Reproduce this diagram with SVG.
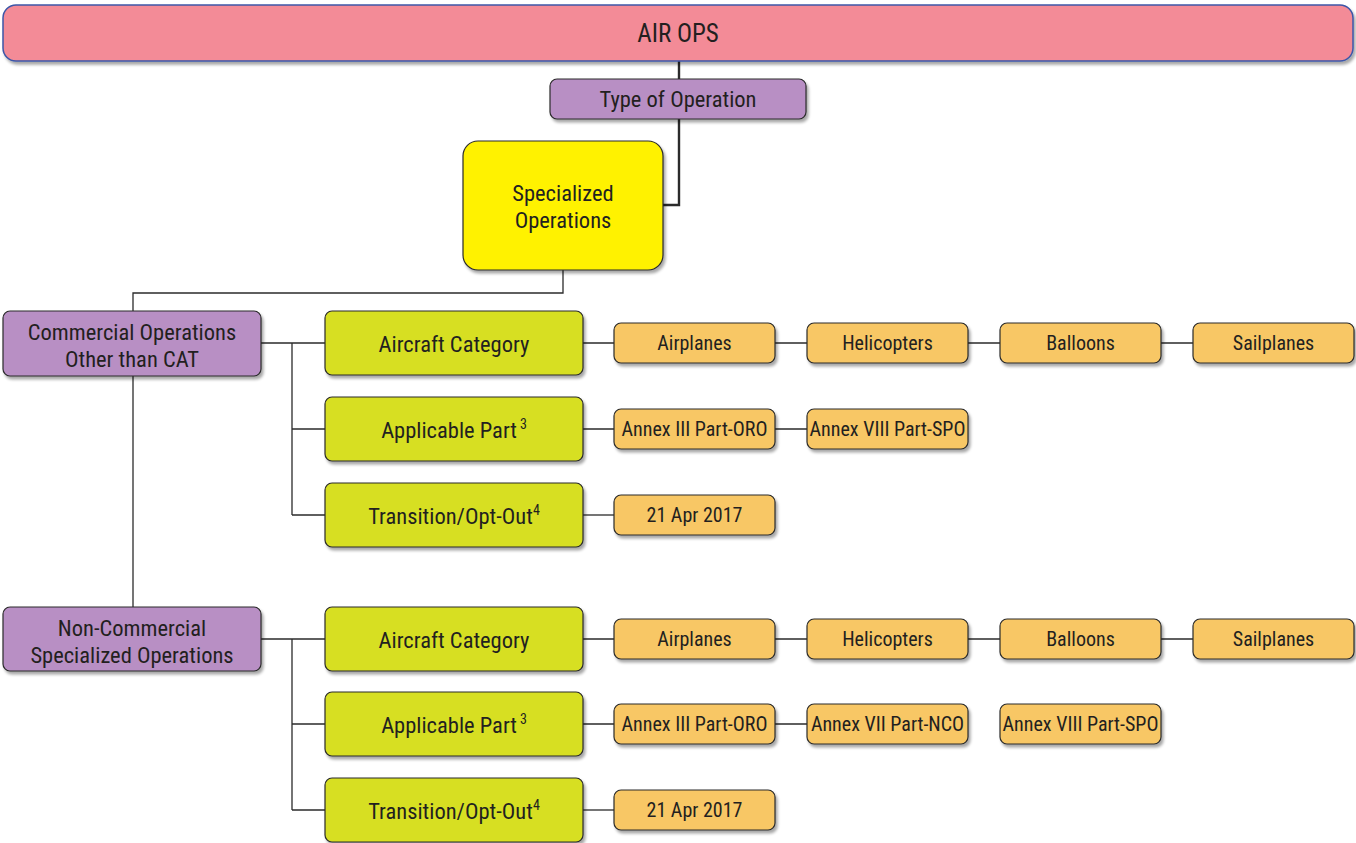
<svg xmlns="http://www.w3.org/2000/svg" width="1356" height="843" viewBox="0 0 1356 843">
  <style>
    .t { font-family: "Liberation Sans Narrow", "Roboto Condensed", "Liberation Sans", sans-serif; fill: #231f20; text-anchor: middle; }
    .big { font-size: 25px; }
    .mid { font-size: 22.5px; }
    .sm { font-size: 20px; }
    .box { stroke: #2b2b2b; stroke-width: 1.2; filter: url(#shadow); }
    .root { fill: #f38b97; stroke: #3d57a8; stroke-width: 1.5; filter: url(#shadow); }
    .purple { fill: #b88fc4; }
    .yellow { fill: #fff200; }
    .green { fill: #d7df21; }
    .orange { fill: #f8c765; }
    .wire { fill: none; stroke: #2b2b2b; stroke-width: 1.3; }
    .thick { stroke-width: 2.4; }
  </style>
  <defs>
    <filter id="shadow" x="-10%" y="-20%" width="120%" height="150%">
      <feGaussianBlur in="SourceAlpha" stdDeviation="1.5"/>
      <feOffset dx="2" dy="3" result="o"/>
      <feComponentTransfer><feFuncA type="linear" slope="0.35"/></feComponentTransfer>
      <feMerge><feMergeNode/><feMergeNode in="SourceGraphic"/></feMerge>
    </filter>
  </defs>

  <rect width="1356" height="843" fill="#ffffff"/>

  <!-- connectors -->
  <g id="connectors">
    <path class="wire thick" d="M679 61 V79"/>
    <path class="wire thick" d="M679 119 V205 H663"/>
    <path class="wire" d="M563 270 V293 H133 V311"/>
    <path class="wire" d="M133 376 V607"/>
    <!-- commercial branch -->
    <path class="wire" d="M261 343 H325 M292 343 V515 M292 429 H325 M292 515 H325"/>
    <path class="wire" d="M583 343 H614 M775 343 H807 M968 343 H1000 M1161 343 H1193"/>
    <path class="wire" d="M583 429 H614 M775 429 H807"/>
    <path class="wire" d="M583 515 H614"/>
    <!-- non-commercial branch -->
    <path class="wire" d="M261 639 H325 M292 639 V810 M292 724 H325 M292 810 H325"/>
    <path class="wire" d="M583 639 H614 M775 639 H807 M968 639 H1000 M1161 639 H1193"/>
    <path class="wire" d="M583 724 H614 M775 724 H807"/>
    <path class="wire" d="M583 810 H614"/>
  </g>

  <g id="air-ops">
    <rect class="root" x="3" y="5" width="1350" height="56" rx="13"/>
    <text class="t big" x="678" y="42">AIR OPS</text>
  </g>
  <g id="type-of-operation">
    <rect class="box purple" x="550" y="79" width="256" height="40" rx="7"/>
    <text class="t mid" x="678" y="107">Type of Operation</text>
  </g>
  <g id="specialized-operations">
    <rect class="box yellow" x="463" y="141" width="200" height="129" rx="15"/>
    <text class="t mid" x="563" y="201">Specialized</text>
    <text class="t mid" x="563" y="228">Operations</text>
  </g>

  <!-- commercial operations -->
  <g id="commercial">
    <rect class="box purple" x="3" y="311" width="258" height="65" rx="7"/>
    <text class="t mid" x="132" y="340">Commercial Operations</text>
    <text class="t mid" x="132" y="367">Other than CAT</text>
  </g>
  <g id="c-aircraft-category">
    <rect class="box green" x="325" y="311" width="258" height="64" rx="7"/>
    <text class="t mid" x="454" y="352">Aircraft Category</text>
  </g>
  <g id="c-applicable-part">
    <rect class="box green" x="325" y="397" width="258" height="64" rx="7"/>
    <text class="t mid" x="454" y="438">Applicable Part<tspan font-size="14" dx="3" dy="-9">3</tspan></text>
  </g>
  <g id="c-transition">
    <rect class="box green" x="325" y="483" width="258" height="64" rx="7"/>
    <text class="t mid" x="454" y="524">Transition/Opt-Out<tspan font-size="14" dy="-9">4</tspan></text>
  </g>
  <g id="c-airplanes">
    <rect class="box orange" x="614" y="323" width="161" height="40" rx="7"/>
    <text class="t sm" x="694.5" y="350">Airplanes</text>
  </g>
  <g id="c-helicopters">
    <rect class="box orange" x="807" y="323" width="161" height="40" rx="7"/>
    <text class="t sm" x="887.5" y="350">Helicopters</text>
  </g>
  <g id="c-balloons">
    <rect class="box orange" x="1000" y="323" width="161" height="40" rx="7"/>
    <text class="t sm" x="1080.5" y="350">Balloons</text>
  </g>
  <g id="c-sailplanes">
    <rect class="box orange" x="1193" y="323" width="161" height="40" rx="7"/>
    <text class="t sm" x="1273.5" y="350">Sailplanes</text>
  </g>
  <g id="c-annex-iii">
    <rect class="box orange" x="614" y="409" width="161" height="40" rx="7"/>
    <text class="t sm" x="694.5" y="436">Annex III Part-ORO</text>
  </g>
  <g id="c-annex-viii">
    <rect class="box orange" x="807" y="409" width="161" height="40" rx="7"/>
    <text class="t sm" x="887.5" y="436">Annex VIII Part-SPO</text>
  </g>
  <g id="c-date">
    <rect class="box orange" x="614" y="495" width="161" height="40" rx="7"/>
    <text class="t sm" x="694.5" y="522">21 Apr 2017</text>
  </g>

  <!-- non-commercial specialized operations -->
  <g id="non-commercial">
    <rect class="box purple" x="3" y="607" width="258" height="64" rx="7"/>
    <text class="t mid" x="132" y="636">Non-Commercial</text>
    <text class="t mid" x="132" y="663">Specialized Operations</text>
  </g>
  <g id="n-aircraft-category">
    <rect class="box green" x="325" y="607" width="258" height="64" rx="7"/>
    <text class="t mid" x="454" y="648">Aircraft Category</text>
  </g>
  <g id="n-applicable-part">
    <rect class="box green" x="325" y="692" width="258" height="64" rx="7"/>
    <text class="t mid" x="454" y="733">Applicable Part<tspan font-size="14" dx="3" dy="-9">3</tspan></text>
  </g>
  <g id="n-transition">
    <rect class="box green" x="325" y="778" width="258" height="64" rx="7"/>
    <text class="t mid" x="454" y="819">Transition/Opt-Out<tspan font-size="14" dy="-9">4</tspan></text>
  </g>
  <g id="n-airplanes">
    <rect class="box orange" x="614" y="619" width="161" height="40" rx="7"/>
    <text class="t sm" x="694.5" y="646">Airplanes</text>
  </g>
  <g id="n-helicopters">
    <rect class="box orange" x="807" y="619" width="161" height="40" rx="7"/>
    <text class="t sm" x="887.5" y="646">Helicopters</text>
  </g>
  <g id="n-balloons">
    <rect class="box orange" x="1000" y="619" width="161" height="40" rx="7"/>
    <text class="t sm" x="1080.5" y="646">Balloons</text>
  </g>
  <g id="n-sailplanes">
    <rect class="box orange" x="1193" y="619" width="161" height="40" rx="7"/>
    <text class="t sm" x="1273.5" y="646">Sailplanes</text>
  </g>
  <g id="n-annex-iii">
    <rect class="box orange" x="614" y="704" width="161" height="40" rx="7"/>
    <text class="t sm" x="694.5" y="731">Annex III Part-ORO</text>
  </g>
  <g id="n-annex-vii">
    <rect class="box orange" x="807" y="704" width="161" height="40" rx="7"/>
    <text class="t sm" x="887.5" y="731">Annex VII Part-NCO</text>
  </g>
  <g id="n-annex-viii">
    <rect class="box orange" x="1000" y="704" width="161" height="40" rx="7"/>
    <text class="t sm" x="1080.5" y="731">Annex VIII Part-SPO</text>
  </g>
  <g id="n-date">
    <rect class="box orange" x="614" y="790" width="161" height="40" rx="7"/>
    <text class="t sm" x="694.5" y="817">21 Apr 2017</text>
  </g>
</svg>
